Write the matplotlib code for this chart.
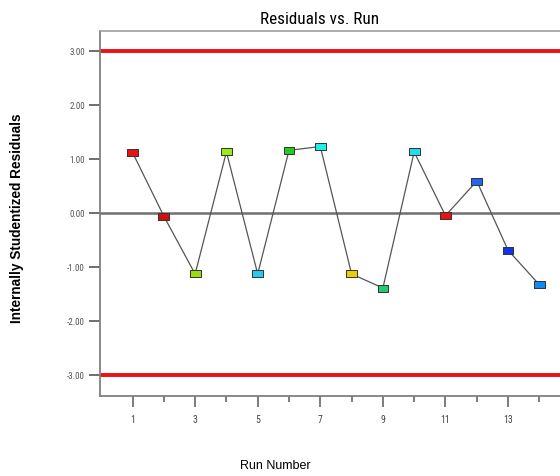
import matplotlib
matplotlib.use("Agg")
import matplotlib.pyplot as plt
from matplotlib.ticker import FixedLocator

runs = [1, 2, 3, 4, 5, 6, 7, 8, 9, 10, 11, 12, 13, 14]
residuals = [1.12, -0.06, -1.13, 1.13, -1.13, 1.16, 1.23, -1.13, -1.39, 1.13, -0.05, 0.59, -0.69, -1.33]
point_colors = ["#ee1111", "#cc1111", "#99dd11", "#99ee11", "#22ccee", "#22cc22", "#22eeee",
                "#eecc00", "#22cc77", "#22ddee", "#ee1111", "#2266ee", "#1133ee", "#1188ee"]
limit = 3.0
yticks = [3.0, 2.0, 1.0, 0.0, -1.0, -2.0, -3.0]
xticks_major = [1, 3, 5, 7, 9, 11, 13]
xticks_minor = [2, 4, 6, 8, 10, 12, 14]

narrow = ["Roboto Condensed", "Archivo Narrow", "Liberation Sans"]

W, H = 560, 477
fig = plt.figure(figsize=(W / 100, H / 100), dpi=100)
left, right, top, bottom = 100, 560, 32, 397
ax = fig.add_axes([left / W, 1 - bottom / H, (right - left) / W, (bottom - top) / H])

ax.set_xlim(-0.04, 14.66)
ax.set_ylim(-3.39, 3.37)

ax.axhline(limit, color="#ee1111", lw=2.8, zorder=1)
ax.axhline(-limit, color="#ee1111", lw=2.8, zorder=1)
ax.axhline(0, color="#707070", lw=1.8, zorder=1)

rect = [(-1, -0.65), (1, -0.65), (1, 0.65), (-1, 0.65), (-1, -0.65)]
ax.plot(runs, residuals, color="#555555", lw=0.9, zorder=2)
ax.scatter(runs, residuals, marker=rect, s=60, c=point_colors, edgecolors="#333333",
           linewidths=0.7, zorder=3)

ax.spines["right"].set_visible(False)
for s in ["left", "bottom"]:
    ax.spines[s].set_color("#808080")
    ax.spines[s].set_linewidth(1.3)
ax.spines["top"].set_color("#a0a0a0")
ax.spines["top"].set_linewidth(1.2)

ax.set_yticks(yticks)
ax.set_yticklabels([f"{v:.2f}" for v in yticks], fontsize=6.5, color="#555555",
                   family=narrow)
ax.tick_params(axis="y", direction="out", length=8, width=1.2, color="#555555", pad=3)
ax.set_xticks(xticks_major)
ax.set_xticklabels([str(v) for v in xticks_major], fontsize=7, color="#444444",
                   family=narrow)
ax.xaxis.set_minor_locator(FixedLocator(xticks_minor))
ax.tick_params(axis="x", which="major", direction="out", length=8, width=1.2,
               color="#666666", pad=5)
ax.tick_params(axis="x", which="minor", direction="out", length=4, width=1.2,
               color="#666666")

fig.text(320 / W, 1 - 19 / H, "Residuals vs. Run", ha="center", va="center",
         fontsize=12.3, family=narrow)
fig.text(275 / W, 1 - 466 / H, "Run Number", ha="center", va="center",
         fontsize=9, family="Liberation Sans")
fig.text(17 / W, 1 - 218 / H, "Internally Studentized Residuals", ha="center", va="center",
         rotation=90, fontsize=9.8, fontweight="bold", family="Liberation Sans")

fig.savefig("out.png", dpi=100)
